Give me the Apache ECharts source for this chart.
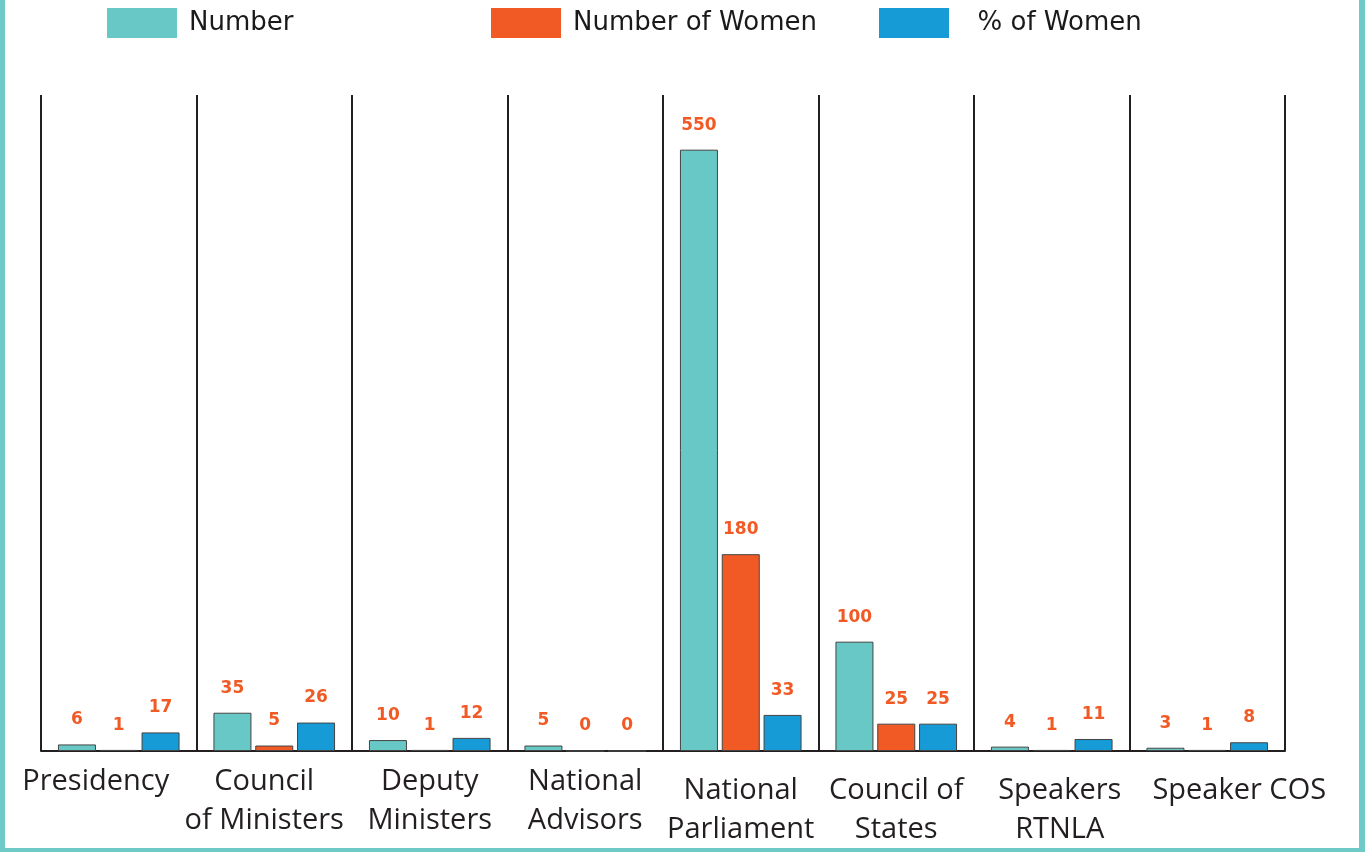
<!DOCTYPE html>
<html>
<head>
<meta charset="utf-8">
<script src="https://cdn.jsdelivr.net/npm/echarts@6/dist/echarts.min.js"></script>
<style>
  html, body { margin: 0; padding: 0; background: #fff; }
  #wrap { position: relative; width: 1365px; height: 852px; }
  #chart { width: 1365px; height: 852px; }
  #frame {
    position: absolute; left: 0; top: 0; right: 0; bottom: 0;
    border-left: 5px solid #6dcac6; border-right: 6px solid #6dcac6;
    border-bottom: 4px solid #6dcac6; pointer-events: none;
  }
</style>
</head>
<body>
<div id="wrap">
  <div id="chart"></div>
  <div id="frame"></div>
</div>
<script>
  // data
  const categories = [
    "Presidency", "Council\nof Ministers", "Deputy\nMinisters", "National\nAdvisors",
    "National\nParliament", "Council of\nStates", "Speakers\nRTNLA", "Speaker COS"
  ];
  const numberAll = [6, 35, 10, 5, 550, 100, 4, 3];
  const numberWomen = [1, 5, 1, 0, 180, 25, 1, 1];
  const pctWomen = [17, 26, 12, 0, 33, 25, 11, 8];

  const teal = "#68c8c6", orange = "#f15a24", blue = "#169bd7";

  // the right half of the labels sits a bit lower, and some are nudged sideways
  const labelPad = (i) => {
    if (i === 0) return [0, 46, 0, 0];
    if (i === 1) return [0, 20, 0, 0];
    if (i === 6) return [9, 0, 0, 16];
    if (i === 7) return [9, 0, 0, 64];
    if (i >= 4) return [9, 0, 0, 0];
    return [0, 0, 0, 0];
  };
  const catData = categories.map((c, i) => ({ value: c, textStyle: { padding: labelPad(i) } }));

  const chart = echarts.init(document.getElementById("chart"));

  const legendBase = {
    top: 8, padding: 0, itemWidth: 70, itemHeight: 30, icon: "rect", selectedMode: false,
    itemStyle: { borderWidth: 0 },
    textStyle: { fontFamily: "DejaVu Sans", fontSize: 26, color: "#1a1a1a", padding: [0, 0, 0, 7] }
  };

  const barLabel = {
    show: true, position: "top", distance: 16,
    color: orange, fontFamily: "DejaVu Sans", fontWeight: "bold", fontSize: 17
  };
  const mkSeries = (name, data, color) => ({
    name, type: "bar", data, barWidth: 38, barGap: "10%",
    itemStyle: { color, borderColor: "#444", borderWidth: 1 },
    label: barLabel
  });

  chart.setOption({
    animation: false,
    legend: [
      Object.assign({ data: ["Number"], left: 107 }, legendBase),
      Object.assign({ data: ["Number of Women"], left: 491 }, legendBase),
      Object.assign({ data: ["% of Women"], left: 879, formatter: "  {name}" }, legendBase)
    ],
    grid: { left: 41, right: 80, top: 95, bottom: 101, containLabel: false },
    xAxis: {
      type: "category",
      data: catData,
      axisLine: { lineStyle: { color: "#231f20", width: 2 } },
      axisTick: { show: false },
      splitLine: { show: true, lineStyle: { color: "#231f20", width: 2 } },
      axisLabel: {
        interval: 0, margin: 11, lineHeight: 39,
        fontFamily: "Open Sans", fontSize: 29, color: "#231f20"
      }
    },
    yAxis: { type: "value", min: 0, max: 600, show: false, splitLine: { show: false } },
    series: [
      mkSeries("Number", numberAll, teal),
      mkSeries("Number of Women", numberWomen, orange),
      mkSeries("% of Women", pctWomen, blue)
    ]
  });
</script>
</body>
</html>
